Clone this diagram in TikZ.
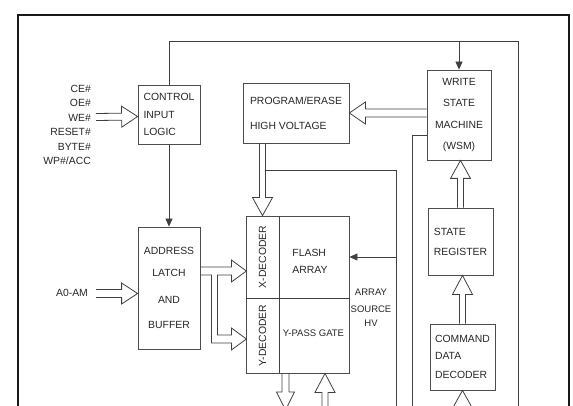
\documentclass[tikz,border=0pt]{standalone}
\usepackage{fontspec}
\setmainfont{Liberation Sans}
\usetikzlibrary{calc,arrows.meta}

\tikzset{
  box/.style={draw=black!70, line width=0.8pt, inner sep=0pt, align=center,
    text=black!85, font=\fontsize{10.4}{12}\selectfont},
  lbl/.style={inner sep=0pt, text=black!85, font=\fontsize{10.4}{12}\selectfont},
  small/.style={inner sep=0pt, text=black!85, font=\fontsize{9.5}{11.5}\selectfont},
  wire/.style={draw=black!75, line width=0.8pt},
  fat/.style={draw=black!75, line width=0.8pt, line join=miter},
}

% hollow wide arrow: tail, tip, shaft half width, head half width, head length
\newcommand{\fatarrow}[5]{%
  \coordinate (fb) at ($(#2)!#5pt!(#1)$);
  \draw[fat] ($(#1)!#3pt!90:(#2)$) -- ($(fb)!#3pt!90:(#2)$) -- ($(fb)!#4pt!90:(#2)$)
    -- (#2) -- ($(fb)!#4pt!-90:(#2)$) -- ($(fb)!#3pt!-90:(#2)$) -- ($(#1)!#3pt!-90:(#2)$);}

\begin{document}
\begin{tikzpicture}[x=1pt,y=-1pt]
  \useasboundingbox (0,0) rectangle (573,406);
  \clip (0,0) rectangle (573,406);

  % outer frame
  \draw[line width=1.8pt, black!90] (18,420) -- (18,15) -- (569,15) -- (569,420);

  % blocks
  \node[box, minimum width=62, minimum height=59, align=left] (ctl) at (169,114.5)
    {CONTROL\\[5.5pt]INPUT\\[5.5pt]LOGIC};
  \node[box, minimum width=62, minimum height=122] (adr) at (169,288)
    {ADDRESS\\[10pt]LATCH\\[15pt]AND\\[13pt]BUFFER};
  \node[box, minimum width=106, minimum height=60, align=left] (pe) at (296,113)
    {PROGRAM/ERASE\\[13pt]HIGH VOLTAGE};
  \node[box, minimum width=103, minimum height=157] (arr) at (297.5,294.5) {};
  \node[box, minimum width=64, minimum height=90] (wsm) at (459,115)
    {WRITE\\[9.3pt]STATE\\[9.3pt]MACHINE\\[9.3pt](WSM)};
  \node[box, minimum width=65, minimum height=67, align=left] (sr) at (460.5,241.5)
    {STATE\\[8pt]REGISTER};
  \node[box, minimum width=65, minimum height=66, align=left] (cmd) at (462.5,357)
    {COMMAND\\[5pt]DATA\\[7pt]DECODER};

  % array cells
  \coordinate (div) at (279,298);
  \draw[wire] (arr.north -| div) -- (arr.south -| div);
  \draw[wire] (arr.west |- div) -- (arr.east |- div);
  \node[lbl, rotate=90] (xdec) at (262.5,257) {X-DECODER};
  \node[lbl, rotate=90] (ydec) at (262.5,335.5) {Y-DECODER};
  \node[lbl, align=left] (flash) at (310,261.5) {FLASH\\[5pt]ARRAY};
  \node[small] (ypass) at (313.5,333) {Y-PASS GATE};
  \node[small, align=center] (src) at (371,307.5) {ARRAY\\[5.5pt]SOURCE\\[2.5pt]HV};

  % inputs
  \node[lbl, align=right, anchor=east] (sig) at (91,125)
    {CE\#\\[2.4pt]OE\#\\[2.4pt]WE\#\\[2.4pt]RESET\#\\[2.4pt]BYTE\#\\[2.4pt]WP\#/ACC};
  \node[lbl] (addr) at (72,293) {A0-AM};

  % thin connectors
  \coordinate (fbk) at (518,41);
  \coordinate (fbkend) at (518,420);
  \draw[wire] (ctl.north) |- (fbk) -- (fbkend);
  \draw[wire, -{Triangle[length=8pt,width=7pt]}] (wsm.north |- fbk) -- (wsm.north);
  \draw[wire, -{Triangle[length=8pt,width=7pt]}] (ctl.south) -- (adr.north);

  \coordinate (hv) at (396,170);
  \coordinate (hvend) at (396,420);
  \draw[wire] (hv -| xdec) ++(3,0) -- (hv) -- (hvend);
  \draw[wire, -{Triangle[length=8pt,width=7pt]}] (hv |- xdec) -- (arr.east |- xdec);

  \coordinate (wsmend) at (412,420);
  \draw[wire] ($(wsm.west)+(0,20)$) -| (wsmend);

  % wide arrows
  \coordinate (ceS) at (96,117);
  \coordinate (ceT) at ($(ctl.west)+(0,2)$);
  \fatarrow{ceS}{ceT}{3.5}{10.5}{16}
  \coordinate (a0S) at (96,293.5);
  \fatarrow{a0S}{adr.west |- a0S}{4}{10.5}{16}
  \fatarrow{pe.south -| xdec}{arr.north -| xdec}{3}{10}{18}
  \fatarrow{wsm.west |- pe.east}{pe.east}{4}{11}{16}
  \fatarrow{sr.north}{sr.north |- wsm.south}{3}{10}{18}
  \fatarrow{cmd.north}{cmd.north |- sr.south}{3}{10}{19}
  \coordinate (bot) at (0,440);
  \fatarrow{cmd.south |- bot}{cmd.south}{3}{10}{18}
  \coordinate (ydT) at (285.5,410);
  \fatarrow{arr.south -| ydT}{ydT}{3.5}{9}{18}
  \coordinate (yuS) at (325,440);
  \fatarrow{yuS}{arr.south -| yuS}{3}{10}{19}

  % address to decoders
  \coordinate (br) at ($(adr.east)+(0,-21)$);
  \draw[fat] (br) -- ++(31,0) -- ++(0,-7) -- ++(15,11) -- ++(-15,11) -- ++(0,-7)
    -- ++(-14,0) -- ++(0,60) -- ++(14,0) -- ++(0,-7) -- ++(15,11) -- ++(-15,11)
    -- ++(0,-7) -- ++(-20,0) -- ++(0,-68) -- ++(-11,0);
\end{tikzpicture}
\end{document}
